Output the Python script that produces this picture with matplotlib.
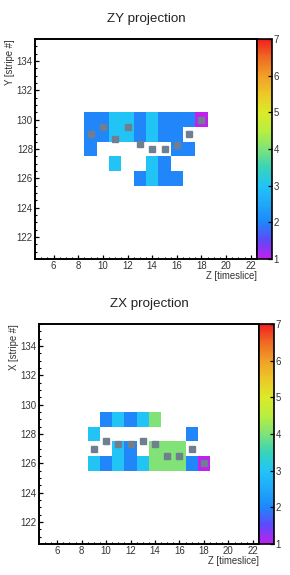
import numpy as np
import matplotlib
matplotlib.use("Agg")
import matplotlib.pyplot as plt
from matplotlib.colors import LinearSegmentedColormap

plt.rcParams["font.family"] = ["Liberation Sans", "DejaVu Sans"]

# ZY projection: hit cells (timeslice, stripe, charge)
zy_z   = [9, 10, 11, 12, 13, 14, 15, 16, 17, 18,
          9, 10, 11, 12, 13, 14, 15, 16,
          9, 16, 17,
          11, 14, 15,
          13, 14, 15, 16]
zy_y   = [130] * 10 + [129] * 8 + [128] * 3 + [127] * 3 + [126] * 4
zy_val = [2, 2, 3, 3, 2, 3, 2, 2, 2, 1,
          2, 2, 3, 3, 2, 3, 2, 2,
          2, 2, 2,
          3, 3, 2,
          2, 3, 2, 2]

# ZX projection: hit cells
zx_z   = [10, 11, 12, 13, 14,
          9, 17,
          11, 12, 14, 15, 16,
          9, 10, 11, 12, 13, 14, 15, 16, 17, 18]
zx_x   = [129] * 5 + [128] * 2 + [127] * 5 + [126] * 10
zx_val = [2, 3, 2, 3, 4,
          3, 2,
          3, 2, 4, 4, 4,
          3, 2, 3, 2, 3, 4, 4, 4, 2, 1]

# fitted track points (grey squares)
trk_z  = [9, 10, 11, 12, 13, 14, 15, 16, 17, 18]
trk_y  = [129.0, 129.5, 128.7, 129.5, 128.35, 128.0, 128.0, 128.25, 129.0, 130.0]
trk_x  = [127.0, 127.5, 127.35, 127.35, 127.5, 127.35, 126.5, 126.5, 127.0, 126.0]

# ROOT-like rainbow palette, 1 -> 7
pal_pos = [0.0, 0.083, 0.167, 0.25, 0.333, 0.417, 0.5, 0.583, 0.667, 0.75, 0.833, 0.917, 1.0]
pal_col = ["#c020f0", "#6048f8", "#1e88fa", "#20a8f8", "#22c4f6", "#38d4b8",
           "#80e278", "#b8ee40", "#dcea28", "#ecc828", "#f0a028", "#f06a24", "#f02020"]
cmap = LinearSegmentedColormap.from_list("rootpal", list(zip(pal_pos, pal_col)))

VMIN, VMAX = 1, 7


def cell_grid(zs, ss, vals):
    zedges = np.arange(4.5, 23.0, 1.0)
    sedges = np.arange(120.5, 136.0, 1.0)
    grid = np.full((len(sedges) - 1, len(zedges) - 1), np.nan)
    for z, s, v in zip(zs, ss, vals):
        grid[int(s - 120.5), int(z - 4.5)] = v
    return zedges, sedges, np.ma.masked_invalid(grid)


def style_axes(ax):
    ax.set_xlim(4.5, 22.5)
    ax.set_ylim(120.5, 135.5)
    ax.set_xticks(np.arange(6, 23, 2))
    ax.set_yticks(np.arange(122, 135, 2))
    ax.set_xticks(np.arange(5, 22.6, 0.5), minor=True)
    ax.set_yticks(np.arange(121, 135.6, 0.5), minor=True)
    ax.tick_params(which="both", direction="in", top=False, right=False,
                   labelsize=6.9, colors="black", labelcolor="#333333")
    ax.tick_params(which="major", length=3.2, width=0.9, pad=1.6)
    ax.tick_params(which="minor", length=1.6, width=0.8)
    for sp in ax.spines.values():
        sp.set_linewidth(1.4)


def draw_panel(fig, rect, cbrect, title, ylab, zs, ss, vals, tz, ts):
    ax = fig.add_axes(rect)
    ze, se, grid = cell_grid(zs, ss, vals)
    mesh = ax.pcolormesh(ze, se, grid, cmap=cmap, vmin=VMIN, vmax=VMAX)
    ax.plot(tz, ts, ls="none", marker="s", ms=5, color="#6f7f8f", mec="#6f7f8f")
    style_axes(ax)

    ax.set_xlabel("Z [timeslice]", fontsize=6.9, color="#333333", loc="right")
    ax.xaxis.set_label_coords(1.0, -0.056)
    # pushed a little left so it clears the "134" tick label
    ax.set_ylabel(ylab, fontsize=6.9, color="#333333", loc="top")
    ax.yaxis.set_label_coords(-0.09, 1.0)

    cax = fig.add_axes(cbrect)
    cb = fig.colorbar(mesh, cax=cax, ticks=range(1, 8))
    cb.outline.set_linewidth(1.2)
    cax.tick_params(direction="in", length=3, width=0.9, labelsize=6.9,
                    labelcolor="#333333", pad=1)

    cx = rect[0] + rect[2] / 2
    fig.text(cx, rect[1] + rect[3] + 0.035, title, ha="center", va="center",
             fontsize=9.6, color="#222222")
    return ax


fig = plt.figure(figsize=(2.9, 5.75), dpi=100)
fig.patch.set_facecolor("white")

draw_panel(fig, [0.121, 0.5496, 0.765, 0.3826], [0.886, 0.5496, 0.052, 0.3826],
           "ZY projection", "Y [stripe #]", zy_z, zy_y, zy_val, trk_z, trk_y)
draw_panel(fig, [0.134, 0.0539, 0.759, 0.3826], [0.893, 0.0539, 0.052, 0.3826],
           "ZX projection", "X [stripe #]", zx_z, zx_x, zx_val, trk_z, trk_x)

fig.savefig("out.png", dpi=100, facecolor="white")
